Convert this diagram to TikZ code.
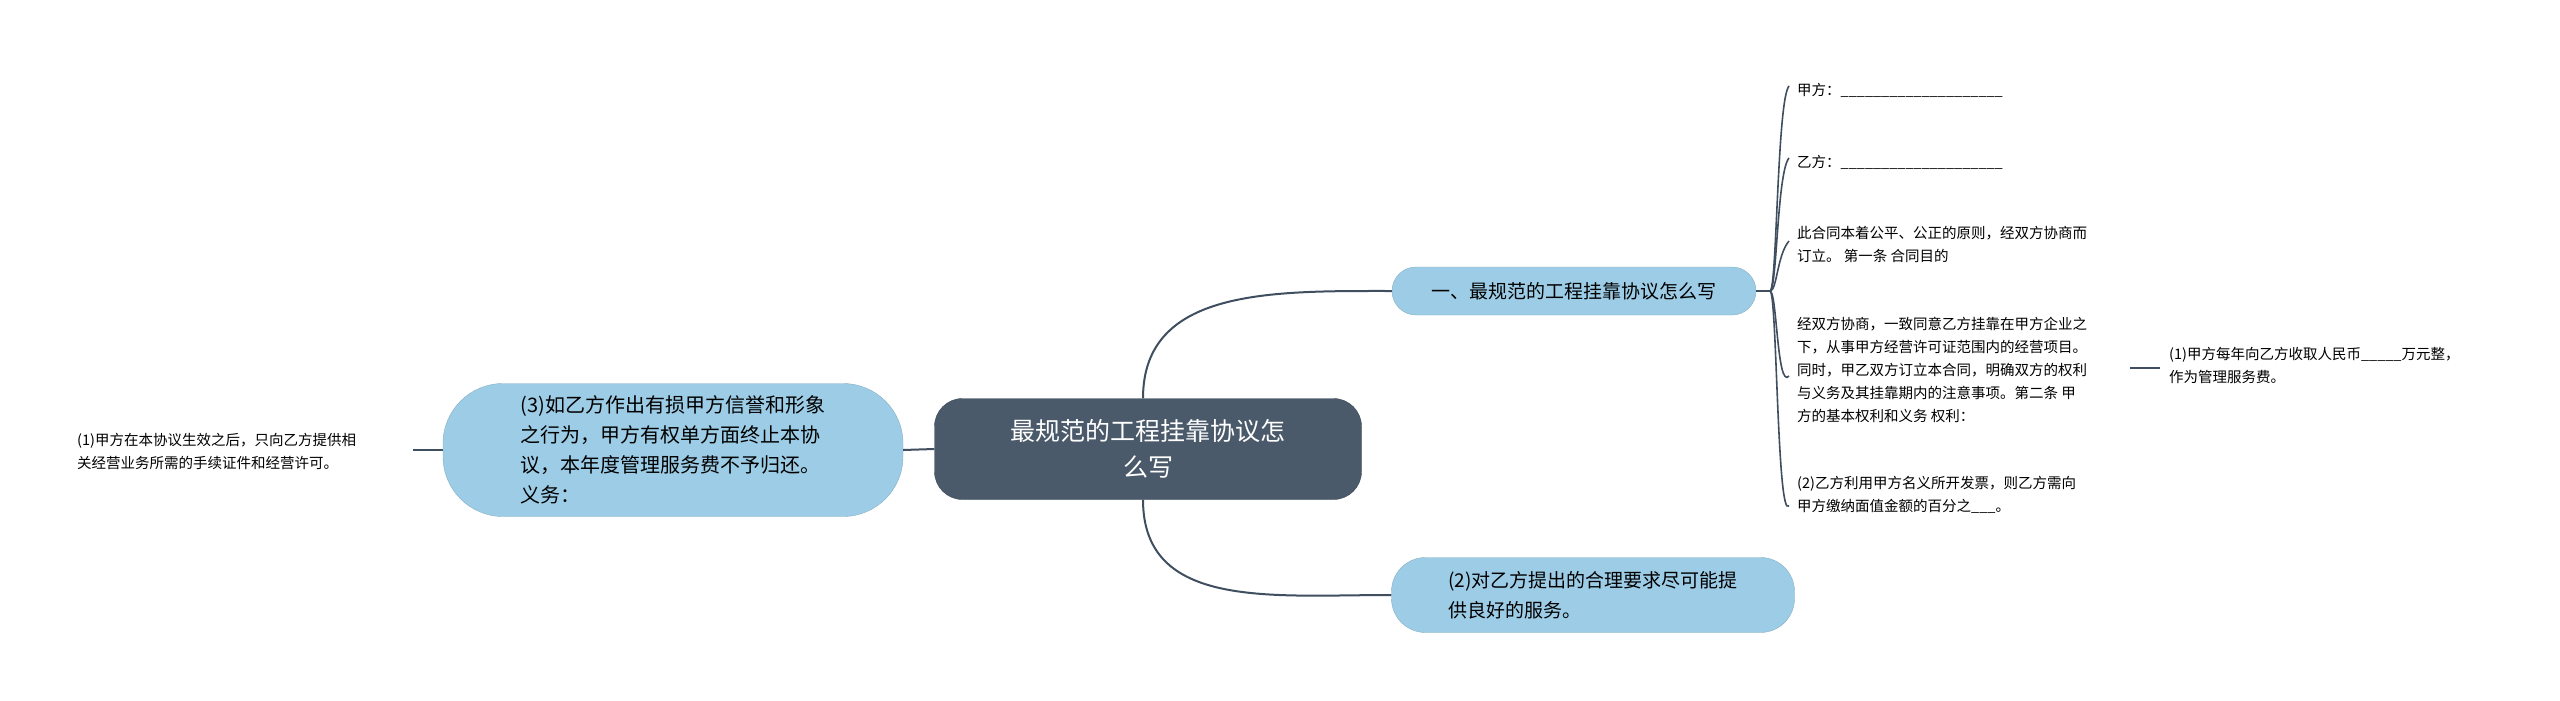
\documentclass[tikz,border=0pt]{standalone}
\usepackage{fontspec}
\usetikzlibrary{calc}
\setmainfont{Noto Sans CJK SC}
\definecolor{dark}{HTML}{4A5A6A}
\definecolor{lb}{HTML}{9DCDE6}
\definecolor{ln}{HTML}{3F4F5F}
\begin{document}
\begin{tikzpicture}[x=1pt,y=-1pt,
  root/.style={fill=dark,draw=dark!80!black,rounded corners=28pt,text=white,font=\fontsize{25}{36}\selectfont,align=center,inner sep=0pt},
  sub/.style={fill=lb,draw=lb!85!black,rounded corners=22pt,font=\fontsize{19}{30}\selectfont,align=left,inner sep=0pt},
  leaf/.style={font=\fontsize{14.5}{23}\selectfont,align=left,anchor=west,inner sep=0pt},
  con/.style={draw=ln,line width=2pt}]
\useasboundingbox (0,0) rectangle (2560,701);
\node[root,minimum width=427,minimum height=101] (root) at (1148,449) {最规范的工程挂靠协议怎\\么写};
\node[sub,minimum width=364,minimum height=48,rounded corners=24pt] (a) at (1574,291) {一、最规范的工程挂靠协议怎么写};
\node[sub,minimum width=403,minimum height=75,rounded corners=34pt] (b) at (1593,595) {(2)对乙方提出的合理要求尽可能提\\供良好的服务。};
\node[sub,minimum width=460,minimum height=133,rounded corners=60pt,font=\fontsize{20}{30}\selectfont] (c) at (673,450) {(3)如乙方作出有损甲方信誉和形象\\之行为，甲方有权单方面终止本协\\议，本年度管理服务费不予归还。\\义务：};
\node[leaf] (cl) at (77,451) {(1)甲方在本协议生效之后，只向乙方提供相\\关经营业务所需的手续证件和经营许可。};
\node[leaf] (l1) at (1797,90) {甲方：\_\_\_\_\_\_\_\_\_\_\_\_\_\_\_\_\_\_\_\_};
\node[leaf] (l2) at (1797,162) {乙方：\_\_\_\_\_\_\_\_\_\_\_\_\_\_\_\_\_\_\_\_};
\node[leaf] (l3) at (1797,244) {此合同本着公平、公正的原则，经双方协商而\\订立。 第一条 合同目的};
\node[leaf] (l4) at (1797,370) {经双方协商，一致同意乙方挂靠在甲方企业之\\下，从事甲方经营许可证范围内的经营项目。\\同时，甲乙双方订立本合同，明确双方的权利\\与义务及其挂靠期内的注意事项。第二条 甲\\方的基本权利和义务 权利：};
\node[leaf] (l5) at (1797,495) {(2)乙方利用甲方名义所开发票，则乙方需向\\甲方缴纳面值金额的百分之\_\_\_。};
\node[leaf] (l41) at (2169,365) {(1)甲方每年向乙方收取人民币\_\_\_\_\_万元整，\\作为管理服务费。};
\coordinate (j) at (1770,291);
\draw[con] (root.north) ++(-5,0) coordinate (rt) .. controls ($(rt)+(0,-110)$) and ($(a.west)+(-120,0)$) .. (a.west);
\draw[con] (root.south) ++(-5,0) coordinate (rb) .. controls ($(rb)+(0,110)$) and ($(b.west)+(-120,0)$) .. (b.west);
\draw[con] (root.west) -- (c.east);
\draw[con] (c.west) -- ++(-30,0);
\draw[con] (a.east) -- (j);
\foreach \y in {100,172,255,390,520}{
  \draw[con,line width=1.6pt] (j) .. controls (1777,291) and (1777,\y) .. (1789,\y-14);
}
\draw[con] (2130,368) -- (2160,368);
\end{tikzpicture}
\end{document}
